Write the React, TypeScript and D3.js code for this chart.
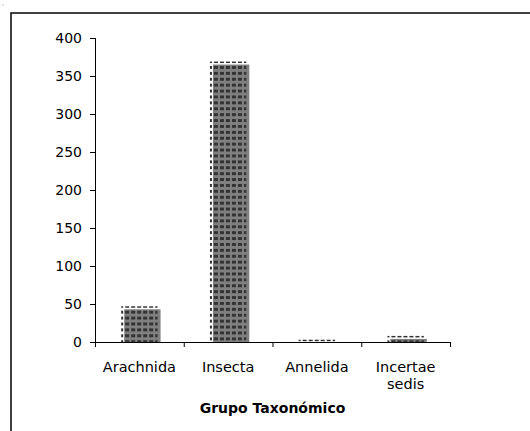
import React from 'react';
import * as d3 from 'd3';

const categories = ['Arachnida', 'Insecta', 'Annelida', 'Incertae sedis'];
const categoryLines = [['Arachnida'], ['Insecta'], ['Annelida'], ['Incertae', 'sedis']];
const counts = [47, 369, 3, 8];
const yTicks = [0, 50, 100, 150, 200, 250, 300, 350, 400];
const xTitle = 'Grupo Taxonómico';

const W = 530;
const H = 431;
const left = 95;
const right = 450;
const top = 38;
const bottom = 342;

const App: React.FC = () => {
  const x = d3.scaleBand<string>().domain(categories).range([left, right]).padding(0);
  const y = d3.scaleLinear().domain([0, 400]).range([bottom, top]);
  const bw = x.bandwidth() * 0.41;
  const shift = 3;
  const font = '"DejaVu Sans", Verdana, sans-serif';

  return (
    <svg width={W} height={H} style={{ position: 'absolute', left: 0, top: 0 }}>
      <defs>
        {categories.map((c, i) => {
          const bx = (x(c) as number) + x.bandwidth() / 2 - bw / 2;
          return (
            <pattern key={c} id={`pat${i}`} patternUnits="userSpaceOnUse" width={6} height={5.9}
              x={bx - 2} y={y(counts[i]) - 1.5}>
              <rect x={0} y={0} width={4} height={3} fill="#333" />
            </pattern>
          );
        })}
      </defs>
      <rect x={0} y={0} width={W} height={H} fill="#fff" />
      <rect x={2.5} y={4.5} width={1} height={1} fill="#999" />
      <rect x={11} y={13} width={700} height={700} fill="none" stroke="#111" strokeWidth={1.6} />

      {categories.map((c, i) => {
        const bx = (x(c) as number) + x.bandwidth() / 2 - bw / 2;
        const yt = y(counts[i]);
        return (
          <g key={c}>
            <rect x={bx + shift} y={Math.min(yt + shift, bottom)} width={bw}
              height={Math.max(bottom - yt - shift, 0)} fill="#808080" />
            <rect x={bx} y={yt} width={bw} height={bottom - yt} fill={`url(#pat${i})`} />
          </g>
        );
      })}

      {/* y axis */}
      <line x1={left + 0.5} x2={left + 0.5} y1={top} y2={bottom} stroke="#000" />
      {yTicks.map(t => (
        <g key={t}>
          <line x1={left - 5} x2={left} y1={y(t) + 0.5} y2={y(t) + 0.5} stroke="#000" />
          <text x={82} y={y(t)} dy="0.36em" textAnchor="end" fontFamily={font} fontSize={14} fill="#000">
            {t}
          </text>
        </g>
      ))}

      {/* x axis */}
      <line x1={left} x2={right + 0.5} y1={bottom + 0.5} y2={bottom + 0.5} stroke="#000" />
      {[...categories.map(c => x(c) as number), right].map((tx, i) => (
        <line key={i} x1={tx + 0.5} x2={tx + 0.5} y1={bottom} y2={bottom + 5} stroke="#000" />
      ))}
      {categories.map((c, i) => (
        <text key={c} x={(x(c) as number) + x.bandwidth() / 2} y={372} textAnchor="middle"
          fontFamily={font} fontSize={14.5} fill="#000">
          {categoryLines[i].map((line, j) => (
            <tspan key={j} x={(x(c) as number) + x.bandwidth() / 2} dy={j === 0 ? 0 : 17}>{line}</tspan>
          ))}
        </text>
      ))}
      <text x={(left + right) / 2} y={413} textAnchor="middle" fontFamily={font} fontSize={14}
        fontWeight="bold" fill="#000">
        {xTitle}
      </text>
    </svg>
  );
};

export default App;
